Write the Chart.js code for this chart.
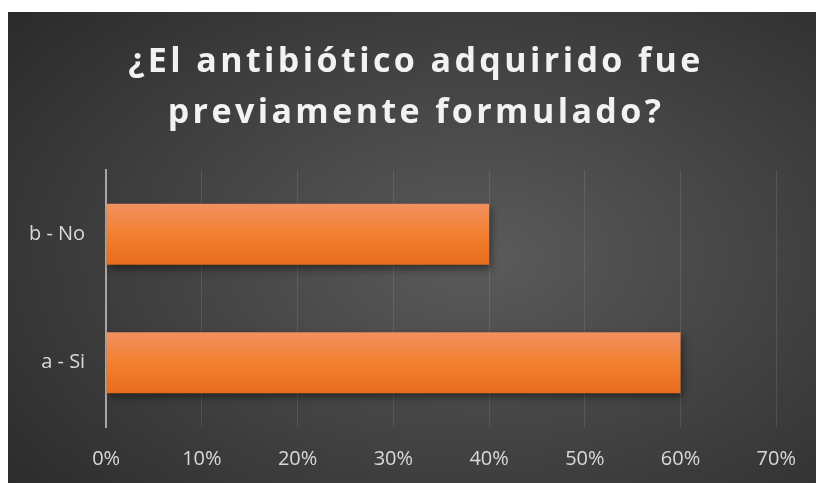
<!DOCTYPE html>
<html>
<head>
<meta charset="utf-8">
<script src="https://cdn.jsdelivr.net/npm/chart.js@4"></script>
<style>
  html, body { margin: 0; padding: 0; background: #fff; width: 817px; height: 483px; overflow: hidden; }
  #wrap {
    position: absolute; left: 8px; top: 12px; width: 808px; height: 471px; overflow: hidden;
    background: radial-gradient(ellipse 75% 80% at 58% 52%, #5b5b5b 0%, #454545 45%, #2b2b2b 100%);
  }
  #chart { display: block; }
</style>
</head>
<body>
<div id="wrap"><canvas id="chart" width="808" height="487"></canvas></div>
<script>
const titleLines = ['¿El antibiótico adquirido fue', 'previamente formulado?'];
const categories = ['b - No', 'a - Si'];
const percentages = [40, 60];
const tickMax = 70;
const tickStep = 10;

const FONT = '"Open Sans", "DejaVu Sans", sans-serif';

// title drawn by hand so letter spacing can be applied
const titlePlugin = {
    id: 'spacedTitle',
    afterDraw(chart) {
        const ctx = chart.ctx;
        ctx.save();
        ctx.font = 'bold 34px ' + FONT;
        ctx.fillStyle = '#f2f2f2';
        ctx.textAlign = 'center';
        ctx.textBaseline = 'middle';
        ctx.letterSpacing = '3.4px';
        titleLines.forEach((line, i) => ctx.fillText(line, chart.width / 2 + 4, 50 + i * 51));
        ctx.restore();
    }
};

const shadowPlugin = {
    id: 'barShadow',
    beforeDatasetsDraw(chart) {
        const ctx = chart.ctx;
        ctx.save();
        ctx.shadowColor = 'rgba(0,0,0,0.45)';
        ctx.shadowBlur = 8;
        ctx.shadowOffsetX = 2;
        ctx.shadowOffsetY = 4;
    },
    afterDatasetsDraw(chart) {
        chart.ctx.restore();
    }
};

function barFill(context) {
    const chart = context.chart;
    const y = chart.scales && chart.scales.y;
    if (!y || !chart.chartArea) return '#ee7c2c';
    const yc = y.getPixelForValue(context.dataIndex);
    const half = (y.height / categories.length) * 0.95 * 0.5 / 2;
    const g = chart.ctx.createLinearGradient(0, yc - half, 0, yc + half);
    g.addColorStop(0, '#f29060');
    g.addColorStop(0.5, '#f28030');
    g.addColorStop(1, '#e86c1c');
    return g;
}

new Chart(document.getElementById('chart'), {
    type: 'bar',
    data: {
        labels: categories,
        datasets: [{
            data: percentages,
            backgroundColor: barFill,
            borderWidth: 0,
            categoryPercentage: 0.95,
            barPercentage: 0.5,
        }]
    },
    options: {
        indexAxis: 'y',
        responsive: false,
        animation: false,
        devicePixelRatio: 1,
        layout: { padding: { top: 158, right: 28, left: 0, bottom: 8 } },
        plugins: {
            legend: { display: false },
            tooltip: { enabled: false },
        },
        scales: {
            x: {
                min: 0,
                max: tickMax,
                ticks: {
                    stepSize: tickStep,
                    color: '#d9d9d9',
                    font: { size: 20, family: FONT },
                    padding: 20,
                    callback: v => v + '%'
                },
                grid: { color: 'rgba(255,255,255,0.1)', drawTicks: false, lineWidth: 1 },
                border: { display: false }
            },
            y: {
                ticks: {
                    color: '#d9d9d9',
                    font: { size: 20, family: FONT },
                    padding: 21
                },
                grid: { display: false, drawTicks: false },
                border: { display: true, color: '#a6a6a6', width: 2 }
            }
        }
    },
    plugins: [shadowPlugin, titlePlugin]
});
</script>
</body>
</html>
